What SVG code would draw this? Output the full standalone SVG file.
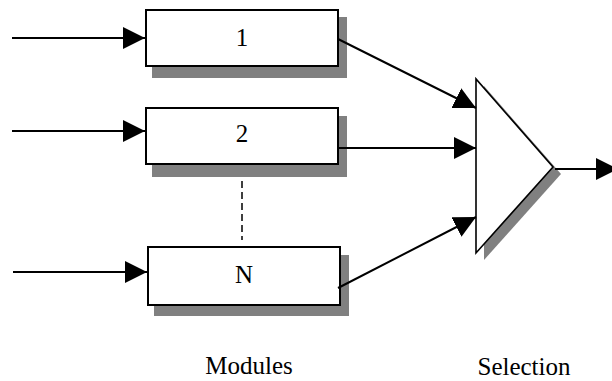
<svg xmlns="http://www.w3.org/2000/svg" width="612" height="381" viewBox="0 0 612 381">
<style>
.box{fill:#fff;stroke:#000;stroke-width:2}
.shadow{fill:#808080;stroke:none}
.lbl{font-family:"Liberation Serif","Times New Roman",serif;font-size:25px;fill:#000;text-anchor:middle}
.conn{stroke:#000;stroke-width:2;fill:none;marker-end:url(#ah)}
</style>
<defs>
<marker id="ah" viewBox="0 0 22 22" markerWidth="22" markerHeight="22" markerUnits="userSpaceOnUse" refX="22" refY="11" orient="auto">
<path d="M0,0 L22,11 L0,22 z" fill="#000"/>
</marker>
</defs>
<g id="module1">
<rect class="shadow" x="152" y="17" width="195" height="61"/>
<rect class="box" x="146" y="10" width="192" height="56"/>
<text class="lbl" x="242" y="46">1</text>
</g>
<g id="module2">
<rect class="shadow" x="152" y="116" width="195" height="61"/>
<rect class="box" x="146" y="108" width="192" height="56"/>
<text class="lbl" x="242" y="142">2</text>
</g>
<g id="moduleN">
<rect class="shadow" x="154" y="255" width="195" height="61"/>
<rect class="box" x="148" y="247" width="192" height="58"/>
<text class="lbl" x="244" y="283">N</text>
</g>
<g id="selection">
<polygon class="shadow" points="484,86 484,260 561,174"/>
<polygon points="476,79 476,253 553,167" fill="#fff" stroke="#000" stroke-width="1.6"/>
</g>
<g id="connectors">
<line class="conn" x1="12" y1="38" x2="145" y2="38"/>
<line class="conn" x1="12" y1="131" x2="145" y2="131"/>
<line class="conn" x1="13" y1="272" x2="147" y2="272"/>
<line x1="242" y1="181" x2="242" y2="240" stroke="#000" stroke-width="1.5" stroke-dasharray="7,4"/>
<line class="conn" x1="338" y1="39" x2="476" y2="108"/>
<line class="conn" x1="339" y1="148" x2="476" y2="148"/>
<line class="conn" x1="338" y1="288" x2="476" y2="217"/>
<line class="conn" x1="555" y1="169" x2="618" y2="169"/>
</g>
<g id="labels">
<text class="lbl" x="249" y="374">Modules</text>
<text class="lbl" x="524" y="375">Selection</text>
</g>
</svg>
